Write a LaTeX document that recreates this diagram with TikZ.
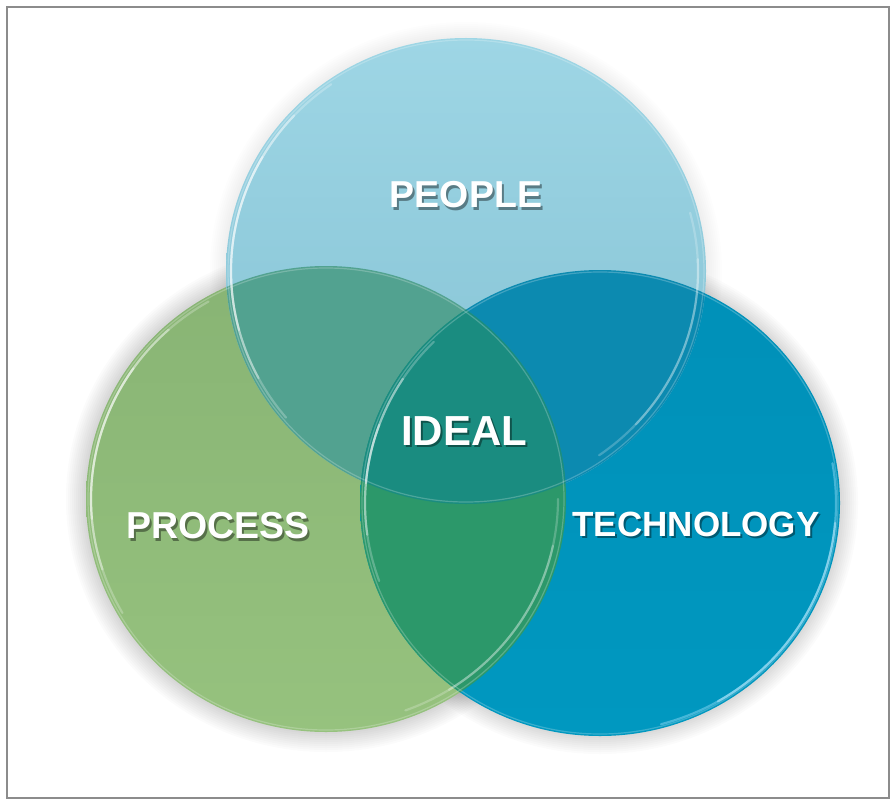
\documentclass[tikz,border=0pt]{standalone}
\usepackage{fontspec}
\setmainfont{Liberation Sans}
\begin{document}
\begin{tikzpicture}[x=1pt,y=-1pt,
  disc/.style={x radius=240, y radius=233},
  rim/.style={line cap=round, line width=2.2pt},
  caption/.style={text=white, font=\bfseries, inner sep=0pt},
  caption shadow/.style={text=black, opacity=0.4, font=\bfseries, inner sep=0pt}]
\useasboundingbox (0,0) rectangle (896,805);
\fill[white] (0,0) rectangle (896,805);
\draw[black!45, line width=1.5pt] (7,7) rectangle (889,798);

\definecolor{peopleTop}{RGB}{158,214,229}
\definecolor{peopleBot}{RGB}{130,192,210}
\definecolor{processTop}{RGB}{136,180,116}
\definecolor{processBot}{RGB}{150,194,126}
\definecolor{techTop}{RGB}{0,144,184}
\definecolor{techBot}{RGB}{0,152,192}
\definecolor{peopleProcess}{RGB}{82,162,144}
\definecolor{peopleTech}{RGB}{12,138,176}
\definecolor{processTech}{RGB}{44,152,106}
\definecolor{idealCol}{RGB}{26,140,128}

\coordinate (cP) at (466,271);
\coordinate (cG) at (326,499);
\coordinate (cT) at (600,503);

% soft drop shadow under the three discs
\foreach \k in {0,...,15} {
  \fill[black, opacity=0.017, shift={(-12,20)}] (cG) ellipse [x radius=260-2*\k, y radius=253-2*\k];
  \fill[black, opacity=0.017, shift={(-6,24)}] (cT) ellipse [x radius=258-2*\k, y radius=251-2*\k];
  \fill[black, opacity=0.008, shift={(-12,8)}] (cP) ellipse [x radius=256-2*\k, y radius=249-2*\k];
}

% base discs
\shade[top color=processTop, bottom color=processBot] (cG) ellipse [disc];
\shade[top color=techTop, bottom color=techBot] (cT) ellipse [disc];
\shade[top color=peopleTop, bottom color=peopleBot] (cP) ellipse [disc];

% pairwise overlaps
\begin{scope}
  \clip (cP) ellipse [disc];
  \fill[peopleProcess] (cG) ellipse [disc];
\end{scope}
\begin{scope}
  \clip (cP) ellipse [disc];
  \fill[peopleTech] (cT) ellipse [disc];
\end{scope}
\begin{scope}
  \clip (cG) ellipse [disc];
  \fill[processTech] (cT) ellipse [disc];
\end{scope}
% centre lens
\begin{scope}
  \clip (cG) ellipse [disc];
  \clip (cP) ellipse [disc];
  \fill[idealCol] (cT) ellipse [disc];
\end{scope}

% faint outlines of every disc
\foreach \c in {cP,cG,cT} {
  \draw[white, opacity=0.22, line width=1.2pt] (\c) ellipse [x radius=238, y radius=231];
}

% glossy rims on the left edges
\foreach \c/\a/\b in {cP/140/235, cG/150/240, cT/160/225} {
  \draw[white, opacity=0.25, rim] (\c) ++(\a:235 and 228) arc [start angle=\a, end angle=\b, x radius=235, y radius=228];
  \draw[white, opacity=0.35, rim] (\c) ++(\a+12:235 and 228) arc [start angle=\a+12, end angle=\b-12, x radius=235, y radius=228];
  \draw[white, opacity=0.40, rim] (\c) ++(\a+25:235 and 228) arc [start angle=\a+25, end angle=\b-25, x radius=235, y radius=228];
}
% light rims on the right / lower-right edges
\foreach \c/\a/\b in {cP/-15/55, cG/0/70} {
  \draw[white, opacity=0.22, rim] (\c) ++(\a:232 and 225) arc [start angle=\a, end angle=\b, x radius=232, y radius=225];
  \draw[white, opacity=0.25, rim] (\c) ++(\a+12:232 and 225) arc [start angle=\a+12, end angle=\b-12, x radius=232, y radius=225];
}
\draw[cyan!40!white, opacity=0.45, rim] (cT) ++(-10:236 and 229) arc [start angle=-10, end angle=75, x radius=236, y radius=229];
\draw[cyan!30!white, opacity=0.55, rim] (cT) ++(5:236 and 229) arc [start angle=5, end angle=60, x radius=236, y radius=229];

% captions with their drop shadows
\foreach \n/\t/\x/\y/\s in {people/PEOPLE/466/195/37.5, ideal/IDEAL/464/431/42, process/PROCESS/218/526/37.5, tech/TECHNOLOGY/696/524/35} {
  \node[caption shadow] (\n s) at (\x+2,\y+2.5) {\fontsize{\s}{\s}\selectfont \t};
  \node[caption] (\n) at (\x,\y) {\fontsize{\s}{\s}\selectfont \t};
}
\end{tikzpicture}
\end{document}
